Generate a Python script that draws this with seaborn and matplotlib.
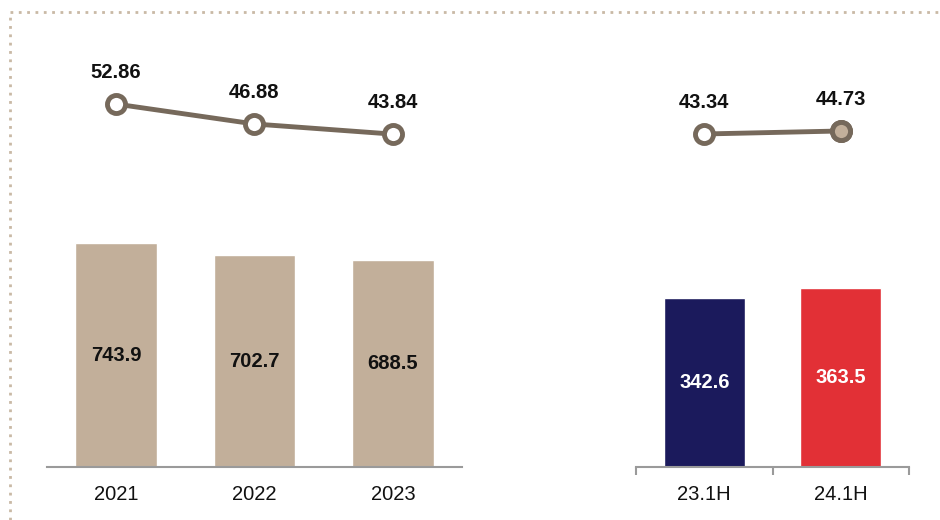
import numpy as np
import pandas as pd
import matplotlib
matplotlib.use('Agg')
import matplotlib.pyplot as plt
import seaborn as sns
from matplotlib.lines import Line2D

# data
years = ['2021', '2022', '2023']
year_bars = [743.9, 702.7, 688.5]
year_line = [52.86, 46.88, 43.84]

halves = ['23.1H', '24.1H']
half_bars = [342.6, 363.5]
half_line = [43.34, 44.73]

tan = '#c2af9a'
navy = '#1b1a5c'
red = '#e23036'
line_col = '#76695b'

sns.set_theme(style='white')
plt.rcParams['font.family'] = ['Liberation Sans', 'DejaVu Sans']

fig = plt.figure(figsize=(9.4, 5.2), dpi=100)

# dotted frame, top and left only
fig.add_artist(Line2D([10/940, 1.0], [1 - 12/520, 1 - 12/520], color='#c9b9a5',
                      lw=2, ls=(0, (1, 2)), transform=fig.transFigure))
fig.add_artist(Line2D([10/940, 10/940], [0, 1 - 12/520], color='#c9b9a5',
                      lw=2, ls=(0, (1, 2)), transform=fig.transFigure))


def panel(rect, cats, bars, line, colors, txtcol, bar_top, line_lim, last_fill, seps):
    ax = fig.add_axes(rect)
    df = pd.DataFrame({'cat': cats, 'val': bars})
    sns.barplot(data=df, x='cat', y='val', hue='cat', palette=colors,
                legend=False, width=0.59, saturation=1, ax=ax)
    ax.set_ylim(0, bar_top)
    ax.set_xlim(-0.5, len(cats) - 0.5)
    for i, v in enumerate(bars):
        ax.text(i, v / 2, f'{v:.1f}', ha='center', va='center',
                fontsize=14.5, fontweight='bold', color=txtcol[i])
    for s in ['top', 'right', 'left']:
        ax.spines[s].set_visible(False)
    ax.spines['bottom'].set_color('#9a9a9a')
    ax.spines['bottom'].set_linewidth(1.5)
    ax.set_yticks([])
    ax.set_xlabel('')
    ax.set_ylabel('')
    ax.tick_params(axis='x', length=0, labelsize=14.5, pad=13, labelcolor='#111111')
    if seps:
        ax.set_xticks(np.arange(len(cats) + 1) - 0.5, minor=True)
        ax.tick_params(axis='x', which='minor', length=6, width=1.5,
                       color='#9a9a9a', direction='out', bottom=True)

    ax2 = ax.twinx()
    xs = np.arange(len(cats))
    ax2.plot(xs, line, color=line_col, lw=3.5, marker='o', ms=13,
             mfc='white', mec=line_col, mew=3.5, zorder=3)
    if last_fill:
        ax2.plot(xs[-1:], line[-1:], ls='none', marker='o', ms=13,
                 mfc=tan, mec=line_col, mew=3.5, zorder=4)
    ax2.set_ylim(*line_lim)
    ax2.set_xlim(-0.5, len(cats) - 0.5)
    for i, v in enumerate(line):
        ax2.annotate(f'{v:.2f}', (i, v), xytext=(0, 23), textcoords='offset points',
                     ha='center', va='center', fontsize=14.5, fontweight='bold',
                     color='#111111')
    ax2.set_yticks([])
    for s in ax2.spines.values():
        s.set_visible(False)


bottom = 53 / 520
height = 447 / 520
panel([47/940, bottom, 415/940, height], years, year_bars, year_line,
      [tan, tan, tan], ['#111111'] * 3, 1485, (-56.1, 78.1), False, False)
panel([636/940, bottom, 273/940, height], halves, half_bars, half_line,
      [navy, red], ['white', 'white'], 907.6, (-110.8, 96.1), True, True)

fig.savefig('out.png', dpi=100)
